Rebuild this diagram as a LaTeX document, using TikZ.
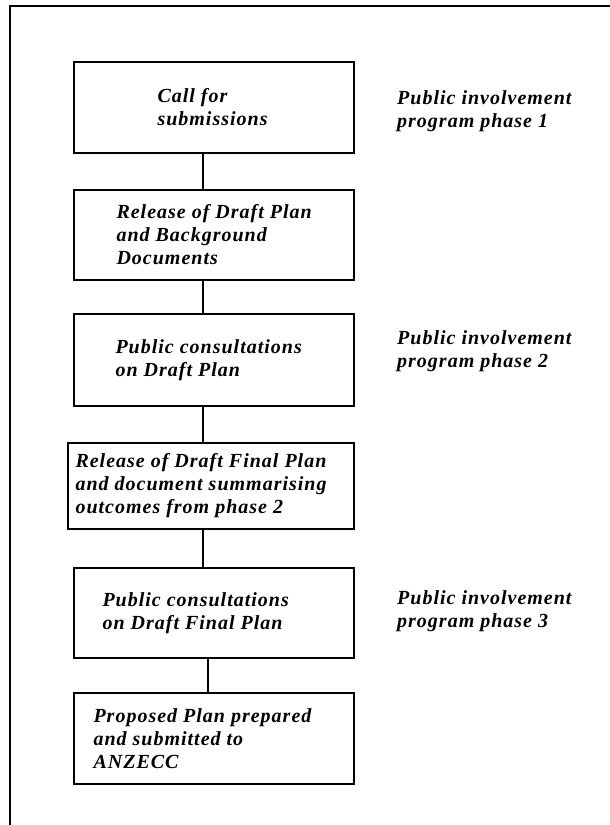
\documentclass[tikz,border=0pt]{standalone}
\usepackage{fontspec}
\setmainfont{Liberation Serif}[LetterSpace=5]
\usetikzlibrary{positioning}

\begin{document}
\begin{tikzpicture}[x=1pt,y=-1pt,
  stage/.style={draw, line width=1.4pt, minimum width=280pt, inner sep=0pt},
  stagetext/.style={anchor=west, align=left, inner sep=0pt,
    font=\fontsize{20}{23}\selectfont\bfseries\itshape},
  phase/.style={stagetext}]

\clip (0,0) rectangle (610,825);
\draw[line width=1.4pt] (10,6) rectangle (660,880);

% stages
\node[stage, minimum height=91pt] (b1) at (214,107.5) {};
\node[stage, minimum height=90pt] (b2) at (214,235) {};
\node[stage, minimum height=92pt] (b3) at (214,360) {};
\node[stage, minimum height=86pt, minimum width=286pt] (b4) at (211,486) {};
\node[stage, minimum height=90pt] (b5) at (214,613) {};
\node[stage, minimum height=91pt] (b6) at (214,738.5) {};

\node[stagetext] (t1) at ([xshift=84pt]b1.west) {Call for\\submissions};
\node[stagetext] (t2) at ([xshift=43pt]b2.west) {Release of Draft Plan\\and Background\\Documents};
\node[stagetext] (t3) at ([xshift=42pt]b3.west) {Public consultations\\on Draft Plan};
\node[stagetext] (t4) at ([xshift=8pt]b4.west) {Release of Draft Final Plan\\and document summarising\\outcomes from phase 2};
\node[stagetext] (t5) at ([xshift=29pt]b5.west) {Public consultations\\on Draft Final Plan};
\node[stagetext] (t6) at ([xshift=20pt]b6.west) {Proposed Plan prepared\\and submitted to\\ANZECC};

% phases
\node[phase] (ph1) at (397,111.5) {Public involvement\\program phase 1};
\node[phase] (ph2) at (397,351.5) {Public involvement\\program phase 2};
\node[phase] (ph3) at (397,611.5) {Public involvement\\program phase 3};

\coordinate (spine) at (203,0);
\coordinate (spinelow) at (208,0);
\draw[line width=1.4pt] (b1.south -| spine) -- (b2.north -| spine);
\draw[line width=1.4pt] (b2.south -| spine) -- (b3.north -| spine);
\draw[line width=1.4pt] (b3.south -| spine) -- (b4.north -| spine);
\draw[line width=1.4pt] (b4.south -| spine) -- (b5.north -| spine);
\draw[line width=1.4pt] (b5.south -| spinelow) -- (b6.north -| spinelow);

\end{tikzpicture}
\end{document}
